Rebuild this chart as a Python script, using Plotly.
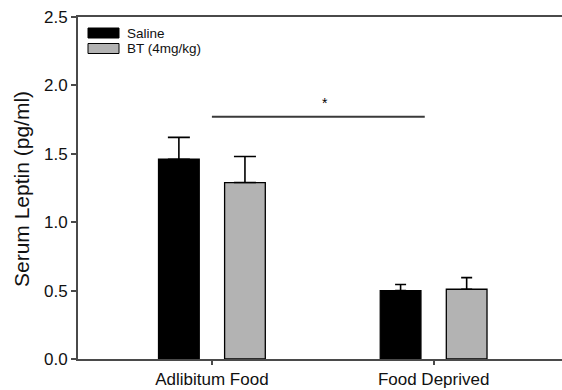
import plotly.graph_objects as go

# Serum leptin by feeding condition and treatment
categories = ["Adlibitum Food", "Food Deprived"]
series_names = ["Saline", "BT (4mg/kg)"]
saline_mean = [1.46, 0.50]
saline_sem = [0.16, 0.045]
bt_mean = [1.29, 0.51]
bt_sem = [0.19, 0.085]
y_ticks = [0.0, 0.5, 1.0, 1.5, 2.0, 2.5]

# significance bracket between feeding conditions
sig_x = [0.0, 0.96]
sig_y = 1.77
sig_label = "*"

SALINE_COLOR = "#000000"
BT_COLOR = "#b3b3b3"
AXIS_COLOR = "#4a4a4a"
FONT = "Liberation Sans, Arial, sans-serif"
cap_half = [11, 5.5]   # error-bar cap half-width per condition

fig = go.Figure()
for i, cat in enumerate(categories):
    for name, mean, sem, color, grp in [
        (series_names[0], saline_mean, saline_sem, SALINE_COLOR, "saline"),
        (series_names[1], bt_mean, bt_sem, BT_COLOR, "bt"),
    ]:
        fig.add_trace(go.Bar(
            x=[cat], y=[mean[i]], name=name, offsetgroup=grp,
            marker=dict(color=color, line=dict(color="#000000", width=1.3)),
            error_y=dict(type="data", array=[sem[i]], symmetric=False,
                         arrayminus=[0], color="#000000", thickness=1.6,
                         width=cap_half[i]),
            showlegend=False,
        ))

fig.add_shape(type="line", xref="x", yref="y", x0=sig_x[0], x1=sig_x[1],
              y0=sig_y, y1=sig_y, line=dict(color="#3a3a3a", width=2))
fig.add_annotation(x=sum(sig_x) / 2 + 0.03, y=sig_y + 0.03, xref="x", yref="y",
                   text=sig_label, showarrow=False, yanchor="bottom",
                   font=dict(family=FONT, size=14, color="#000"))

# legend drawn as swatches + labels in pixel-like paper positions
W, H = 562, 390
L, R, T, B = 78, 0, 17, 31
pw, ph = W - L - R, H - T - B


def px_x(x):
    return (x - L) / pw


def px_y(y):
    return 1 - (y - T) / ph


for k, (name, color) in enumerate(zip(series_names, [SALINE_COLOR, BT_COLOR])):
    top = 28 + k * 15.5
    fig.add_shape(type="rect", xref="paper", yref="paper",
                  x0=px_x(88), x1=px_x(119), y0=px_y(top), y1=px_y(top + 10),
                  fillcolor=color, line=dict(color="#000000", width=1))
    fig.add_annotation(xref="paper", yref="paper", x=px_x(125), y=px_y(top + 5),
                       text=name, showarrow=False, xanchor="left", yanchor="middle",
                       font=dict(family=FONT, size=13.5, color="#111"))

# y-axis title
fig.add_annotation(xref="paper", yref="paper", x=px_x(21), y=px_y(189),
                   text="Serum Leptin (pg/ml)", textangle=-90, showarrow=False,
                   xanchor="center", yanchor="middle",
                   font=dict(family=FONT, size=21, color="#111"))

fig.update_layout(
    width=W, height=H,
    margin=dict(l=L, r=R, t=T, b=B, pad=0),
    paper_bgcolor="white", plot_bgcolor="white",
    barmode="group", bargap=0.404, bargroupgap=0.384,
    font=dict(family=FONT, color="#111"),
    showlegend=False,
)
fig.update_xaxes(
    type="category", categoryorder="array", categoryarray=categories,
    range=[-0.604, 1.579],
    showline=True, linecolor=AXIS_COLOR, linewidth=2, mirror=True,
    ticks="outside", ticklen=4, tickcolor=AXIS_COLOR, tickwidth=1.5,
    tickfont=dict(family=FONT, size=17, color="#111"),
    showgrid=False, zeroline=False,
)
fig.update_yaxes(
    range=[0, 2.5], tickvals=y_ticks, ticktext=[f"{v:.1f}" for v in y_ticks],
    showline=True, linecolor=AXIS_COLOR, linewidth=2,
    ticks="outside", ticklen=5, tickcolor=AXIS_COLOR, tickwidth=1.5,
    tickfont=dict(family=FONT, size=17, color="#111"),
    showgrid=False, zeroline=False,
)

fig.write_html("out.html")
